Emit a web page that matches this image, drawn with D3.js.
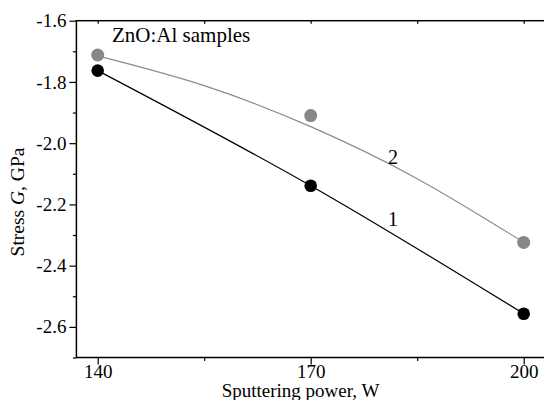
<!DOCTYPE html>
<html>
<head>
<meta charset="utf-8">
<script src="https://cdn.jsdelivr.net/npm/d3@7"></script>
<style>
  body { margin: 0; background: #fff; }
  svg { display: block; }
  svg text { font-family: "Liberation Serif", serif; fill: #000; }
</style>
</head>
<body>
<svg id="chart" width="544" height="400"></svg>
<script>
// sputtering power, W
const power = [140, 170, 200]
// sample 1 (black) and sample 2 (gray), stress in GPa
const stress1 = [-1.763, -2.139, -2.557]
const stress2 = [-1.712, -1.910, -2.324]
// smooth fit drawn through sample 2
const fitPower = [140, 155, 170, 185, 200]
const fit2 = [-1.715, -1.812, -1.946, -2.116, -2.324]

const xMajor = [140, 170, 200]
const xMinor = [155, 185]
const yMajor = [-1.6, -1.8, -2.0, -2.2, -2.4, -2.6]
const yMinor = [-1.7, -1.9, -2.1, -2.3, -2.5, -2.7]

const serif = '"Liberation Serif", serif'
const svg = d3.select('#chart')
const plotL = 76.4, plotR = 545, plotT = 20.7, plotB = 357.5

const x = d3.scaleLinear().domain([137, 203]).range([plotL, plotR])
const y = d3.scaleLinear().domain([-2.7, -1.6]).range([plotB, plotT])

// frame
svg.append('rect')
  .attr('x', plotL).attr('y', plotT)
  .attr('width', plotR - plotL).attr('height', plotB - plotT)
  .attr('fill', 'none').attr('stroke', '#000').attr('stroke-width', 1.5)

// plain hyphen for the minus sign, like the original
const fmt = d => d.toFixed(1)

// bottom axis
const gx = svg.append('g').attr('transform', `translate(0,${plotB})`)
gx.call(d3.axisBottom(x).tickValues(xMajor).tickSize(7).tickPadding(0).tickFormat(d3.format('d')))
gx.append('g').call(d3.axisBottom(x).tickValues(xMinor).tickSize(3.5).tickFormat(''))
// left axis
const gy = svg.append('g').attr('transform', `translate(${plotL},0)`)
gy.call(d3.axisLeft(y).tickValues(yMajor).tickSize(7).tickPadding(3).tickFormat(fmt))
gy.append('g').call(d3.axisLeft(y).tickValues(yMinor).tickSize(3.5).tickFormat(''))
// small inward ticks on top
const gt = svg.append('g').attr('transform', `translate(0,${plotT})`)
gt.call(d3.axisBottom(x).tickValues(xMajor.concat(xMinor)).tickSize(3).tickFormat(''))

svg.selectAll('.domain').remove()
svg.selectAll('g').attr('font-family', serif).attr('font-size', 19)
svg.selectAll('.tick line').attr('stroke', '#000').attr('stroke-width', 1.2)
svg.selectAll('.tick text').attr('fill', '#000')

// curves
const line2 = d3.line().x((d, i) => x(fitPower[i])).y(d => y(d)).curve(d3.curveNatural)
svg.append('path').attr('d', line2(fit2))
  .attr('fill', 'none').attr('stroke', '#8c8c8c').attr('stroke-width', 1.2)

const line1 = d3.line().x((d, i) => x(power[i])).y(d => y(d)).curve(d3.curveNatural)
svg.append('path').attr('d', line1(stress1))
  .attr('fill', 'none').attr('stroke', '#000').attr('stroke-width', 1.2)

// points
svg.selectAll('.p2').data(stress2).enter().append('circle')
  .attr('cx', (d, i) => x(power[i])).attr('cy', d => y(d))
  .attr('r', 6.5).attr('fill', '#878787')
svg.selectAll('.p1').data(stress1).enter().append('circle')
  .attr('cx', (d, i) => x(power[i])).attr('cy', d => y(d))
  .attr('r', 6.3).attr('fill', '#000')

// labels
svg.append('text').attr('x', 112).attr('y', 42)
  .attr('font-family', serif).attr('font-size', 21).text('ZnO:Al samples')
svg.append('text').attr('x', 393).attr('y', 164).attr('text-anchor', 'middle')
  .attr('font-family', serif).attr('font-size', 20).text('2')
svg.append('text').attr('x', 393).attr('y', 226).attr('text-anchor', 'middle')
  .attr('font-family', serif).attr('font-size', 20).text('1')

svg.append('text').attr('x', 300.5).attr('y', 397).attr('text-anchor', 'middle')
  .attr('font-family', serif).attr('font-size', 19).text('Sputtering power, W')

const yl = svg.append('text')
  .attr('transform', 'translate(24,202) rotate(-90)')
  .attr('text-anchor', 'middle')
  .attr('font-family', serif).attr('font-size', 19.5)
yl.append('tspan').text('Stress ')
yl.append('tspan').attr('font-style', 'italic').text('G')
yl.append('tspan').text(', GPa')
</script>
</body>
</html>
